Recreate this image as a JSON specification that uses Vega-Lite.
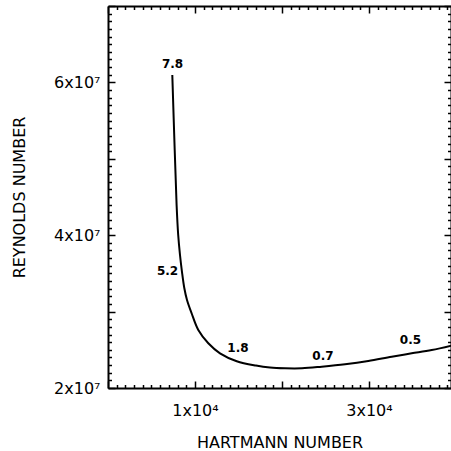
{
  "$schema": "https://vega.github.io/schema/vega-lite/v6.json",
  "width": 343,
  "height": 382,
  "autosize": {"type": "none"},
  "padding": {"left": 108, "top": 6, "right": 0, "bottom": 63},
  "background": "white",
  "config": {
    "view": {"stroke": null},
    "axis": {
      "grid": false,
      "domainColor": "black",
      "domainWidth": 2,
      "tickColor": "black",
      "tickWidth": 1.5,
      "labelFont": "DejaVu Sans",
      "labelFontSize": 16,
      "labelColor": "black",
      "labelOverlap": false,
      "labelFlush": false,
      "titleFont": "DejaVu Sans",
      "titleFontSize": 16,
      "titleFontWeight": "normal",
      "titleColor": "black"
    }
  },
  "datasets": {
    "curve": [
      {"hartmann": 7392, "reynolds": 60970000},
      {"hartmann": 7668, "reynolds": 51150000},
      {"hartmann": 7886, "reynolds": 43950000},
      {"hartmann": 8070, "reynolds": 40030000},
      {"hartmann": 8277, "reynolds": 37410000},
      {"hartmann": 8507, "reynolds": 35180000},
      {"hartmann": 8771, "reynolds": 33090000},
      {"hartmann": 9082, "reynolds": 31520000},
      {"hartmann": 9622, "reynolds": 29750000},
      {"hartmann": 10381, "reynolds": 27590000},
      {"hartmann": 11531, "reynolds": 25850000},
      {"hartmann": 12875, "reynolds": 24540000},
      {"hartmann": 14800, "reynolds": 23510000},
      {"hartmann": 17010, "reynolds": 22940000},
      {"hartmann": 18620, "reynolds": 22680000},
      {"hartmann": 20350, "reynolds": 22580000},
      {"hartmann": 22300, "reynolds": 22580000},
      {"hartmann": 24570, "reynolds": 22790000},
      {"hartmann": 27250, "reynolds": 23100000},
      {"hartmann": 29920, "reynolds": 23530000},
      {"hartmann": 32610, "reynolds": 24100000},
      {"hartmann": 34910, "reynolds": 24540000},
      {"hartmann": 37210, "reynolds": 24970000},
      {"hartmann": 40000, "reynolds": 25700000}
    ],
    "labels": [
      {"hartmann": 7415, "reynolds": 62470000, "label": "7.8"},
      {"hartmann": 6840, "reynolds": 35270000, "label": "5.2"},
      {"hartmann": 14940, "reynolds": 25200000, "label": "1.8"},
      {"hartmann": 24715, "reynolds": 24250000, "label": "0.7"},
      {"hartmann": 34770, "reynolds": 26220000, "label": "0.5"}
    ]
  },
  "layer": [
    {
      "data": {"name": "curve"},
      "mark": {"type": "line", "color": "black", "strokeWidth": 2, "interpolate": "catmull-rom", "clip": true},
      "encoding": {
        "x": {
          "field": "hartmann",
          "type": "quantitative",
          "scale": {"domain": [0, 39430], "nice": false, "zero": false},
          "axis": {
            "orient": "bottom",
            "values": [0,1000,2000,3000,4000,5000,6000,7000,8000,9000,10000,11000,12000,13000,14000,15000,16000,17000,18000,19000,20000,21000,22000,23000,24000,25000,26000,27000,28000,29000,30000,31000,32000,33000,34000,35000,36000,37000,38000,39000],
            "tickSize": {"condition": {"test": "datum.value % 10000 === 0", "value": -7}, "value": -3.5},
            "labelExpr": "datum.value === 10000 ? '1x10⁴' : datum.value === 30000 ? '3x10⁴' : ''",
            "labelPadding": 21,
            "title": "HARTMANN NUMBER",
            "titlePadding": 13
          }
        },
        "y": {
          "field": "reynolds",
          "type": "quantitative",
          "scale": {"domain": [20000000, 70000000], "nice": false, "zero": false},
          "axis": {
            "orient": "left",
            "values": [20000000,21000000,22000000,23000000,24000000,25000000,26000000,27000000,28000000,29000000,30000000,31000000,32000000,33000000,34000000,35000000,36000000,37000000,38000000,39000000,40000000,41000000,42000000,43000000,44000000,45000000,46000000,47000000,48000000,49000000,50000000,51000000,52000000,53000000,54000000,55000000,56000000,57000000,58000000,59000000,60000000,61000000,62000000,63000000,64000000,65000000,66000000,67000000,68000000,69000000,70000000],
            "tickSize": {"condition": {"test": "datum.value % 10000000 === 0", "value": -7}, "value": -3.5},
            "labelExpr": "datum.value === 20000000 ? '2x10⁷' : datum.value === 40000000 ? '4x10⁷' : datum.value === 60000000 ? '6x10⁷' : ''",
            "labelPadding": 15,
            "title": "REYNOLDS NUMBER",
            "titlePadding": 26
          }
        }
      }
    },
    {
      "data": {"name": "labels"},
      "mark": {"type": "text", "font": "DejaVu Sans", "fontWeight": "bold", "fontSize": 12, "color": "black", "align": "center", "baseline": "middle"},
      "encoding": {
        "x": {
          "field": "hartmann",
          "type": "quantitative",
          "axis": {
            "orient": "top",
            "values": [0,1000,2000,3000,4000,5000,6000,7000,8000,9000,10000,11000,12000,13000,14000,15000,16000,17000,18000,19000,20000,21000,22000,23000,24000,25000,26000,27000,28000,29000,30000,31000,32000,33000,34000,35000,36000,37000,38000,39000],
            "tickSize": {"condition": {"test": "datum.value % 10000 === 0", "value": -7}, "value": -3.5},
            "labels": false,
            "title": null
          }
        },
        "y": {
          "field": "reynolds",
          "type": "quantitative",
          "axis": {
            "orient": "right",
            "values": [20000000,21000000,22000000,23000000,24000000,25000000,26000000,27000000,28000000,29000000,30000000,31000000,32000000,33000000,34000000,35000000,36000000,37000000,38000000,39000000,40000000,41000000,42000000,43000000,44000000,45000000,46000000,47000000,48000000,49000000,50000000,51000000,52000000,53000000,54000000,55000000,56000000,57000000,58000000,59000000,60000000,61000000,62000000,63000000,64000000,65000000,66000000,67000000,68000000,69000000,70000000],
            "tickSize": {"condition": {"test": "datum.value % 10000000 === 0", "value": -7}, "value": -3.5},
            "labels": false,
            "title": null
          }
        },
        "text": {"field": "label", "type": "nominal"}
      }
    }
  ],
  "resolve": {"axis": {"x": "independent", "y": "independent"}}
}
